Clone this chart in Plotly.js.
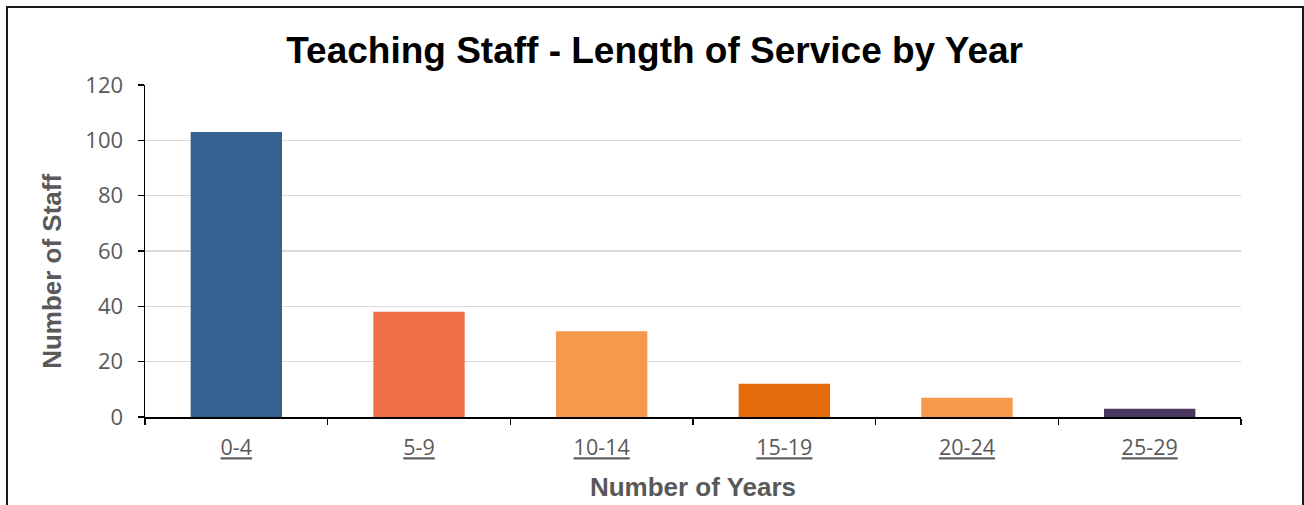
<!DOCTYPE html>
<html>
<head>
<meta charset="utf-8">
<script src="https://cdn.plot.ly/plotly-3.0.1.min.js"></script>
<style>
html,body{margin:0;padding:0;background:#fff;}
#wrap{position:relative;width:1304px;height:505px;overflow:hidden;}
#chart{position:absolute;left:0;top:0;width:1304px;height:505px;}
#frame{position:absolute;left:6px;top:6px;width:1294px;height:497px;border-left:2px solid #1a1a1a;border-top:2px solid #1a1a1a;border-right:2px solid #1a1a1a;border-bottom:1px solid #bfbfbf;pointer-events:none;}
</style>
</head>
<body>
<div id="wrap"><div id="chart"></div><div id="frame"></div></div>
<script>
const categories = ['0-4', '5-9', '10-14', '15-19', '20-24', '25-29'];
const staffCounts = [103, 38, 31, 12, 7, 3];
const barColors = ['#36608F', '#EE6E47', '#F6994A', '#E46C0A', '#F7994A', '#4B3860'];
const yTickVals = [0, 20, 40, 60, 80, 100, 120];

const trace = {
  type: 'bar',
  x: categories,
  y: staffCounts,
  marker: {color: barColors, line: {width: 0}},
  hoverinfo: 'x+y'
};

const tickFamily = 'Open Sans, Liberation Sans, Arial, sans-serif';
const boldFamily = 'Liberation Sans, Arial, sans-serif';

const layout = {
  width: 1304,
  height: 505,
  margin: {l: 145, r: 63, t: 85, b: 88},
  paper_bgcolor: '#ffffff',
  plot_bgcolor: '#ffffff',
  bargap: 0.5,
  showlegend: false,
  title: {
    text: '<b>Teaching Staff - Length of Service by Year</b>',
    font: {family: boldFamily, size: 37, color: '#000000'},
    x: 0.502, xanchor: 'center', y: 0.9, yanchor: 'middle', yref: 'container'
  },
  xaxis: {
    type: 'category',
    showline: true, linecolor: '#000000', linewidth: 1.5,
    ticks: 'outside', ticklen: 6, tickcolor: '#000000', tickwidth: 1.5,
    tickson: 'boundaries',
    ticklabelstandoff: 11,
    showgrid: false,
    tickfont: {family: tickFamily, size: 21.5, color: '#595959', lineposition: 'under'},
    title: {text: '<b>Number of Years</b>', font: {family: boldFamily, size: 26, color: '#595959'}, standoff: 17}
  },
  yaxis: {
    range: [0, 120],
    tickvals: yTickVals,
    showline: true, linecolor: '#000000', linewidth: 1.5,
    ticks: 'outside', ticklen: 6, tickcolor: '#000000', tickwidth: 1.5,
    ticklabelstandoff: 10,
    showgrid: true, gridcolor: '#D9D9D9', gridwidth: 1.2,
    zeroline: false,
    tickfont: {family: tickFamily, size: 22, color: '#595959'}
  },
  annotations: [{
    text: '<b>Number of Staff</b>',
    xref: 'paper', yref: 'paper',
    x: -0.0849, y: 0.44,
    xanchor: 'center', yanchor: 'middle',
    textangle: -90, showarrow: false,
    font: {family: boldFamily, size: 26, color: '#595959'}
  }]
};

Plotly.newPlot('chart', [trace], layout, {displayModeBar: false, staticPlot: true});
</script>
</body>
</html>
